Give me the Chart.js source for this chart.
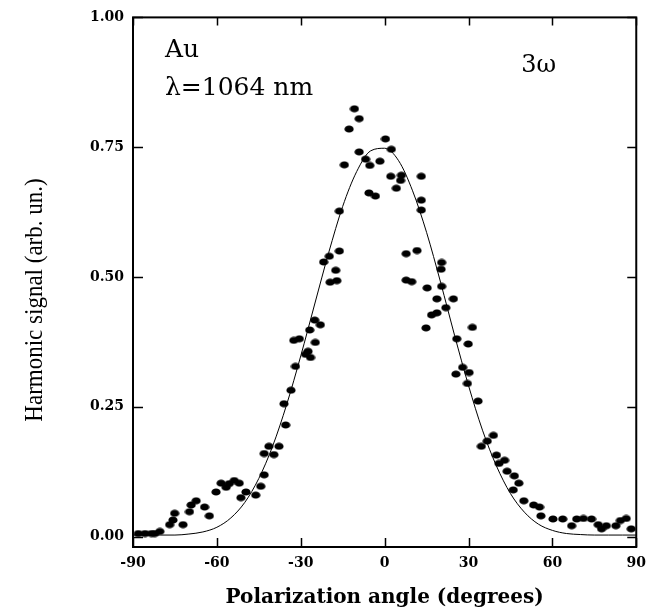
<!DOCTYPE html>
<html>
<head>
<meta charset="utf-8">
<script src="https://cdn.jsdelivr.net/npm/chart.js@4.4.0/dist/chart.umd.min.js"></script>
<style>
  html, body { margin: 0; padding: 0; background: #ffffff; }
  #wrap { width: 654px; height: 615px; position: relative; }
</style>
</head>
<body>
<div id="wrap"><canvas id="chart" width="654" height="615"></canvas></div>
<script>
var angles = [-88.1, -85.7, -83.4, -82.2, -80.4, -76.9, -75.7, -75.1, -72.1, -69.8,
  -69.2, -67.4, -64.4, -62.7, -60.3, -58.5, -56.7, -55.6, -53.8, -52.0,
  -51.4, -49.6, -46.1, -44.3, -43.1, -43.1, -41.4, -39.6, -37.8, -36.0,
  -35.4, -33.5, -32.5, -31.9, -30.5, -28.3, -27.4, -26.8, -26.5, -25.0,
  -24.8, -23.0, -21.8, -19.8, -19.5, -17.5, -17.1, -16.2, -16.2, -14.4,
  -12.7, -10.8, -9.1, -9.1, -6.8, -5.6, -5.3, -3.3, -1.7, 0.3,
  2.2, 2.4, 4.2, 5.7, 6.0, 7.7, 7.7, 9.7, 11.6, 13.1,
  13.1, 13.1, 14.8, 15.2, 16.8, 18.7, 18.7, 20.2, 20.4, 20.4,
  21.9, 24.6, 25.5, 25.8, 27.9, 29.6, 29.9, 30.2, 31.4, 33.4,
  34.6, 36.7, 38.9, 40.0, 40.9, 42.9, 43.8, 46.0, 46.4, 48.0,
  49.8, 53.3, 55.4, 55.9, 60.2, 63.7, 66.9, 68.7, 71.1, 74.0,
  76.4, 77.6, 79.3, 82.7, 84.3, 86.4, 88.2];
var signal = [0.006, 0.006, 0.006, 0.006, 0.010, 0.023, 0.032, 0.045, 0.023, 0.048,
  0.061, 0.069, 0.057, 0.040, 0.086, 0.103, 0.095, 0.102, 0.108, 0.103,
  0.075, 0.086, 0.080, 0.097, 0.119, 0.160, 0.174, 0.158, 0.174, 0.256,
  0.215, 0.282, 0.378, 0.328, 0.381, 0.351, 0.357, 0.398, 0.345, 0.417,
  0.374, 0.408, 0.529, 0.540, 0.490, 0.513, 0.493, 0.550, 0.627, 0.716,
  0.785, 0.824, 0.805, 0.741, 0.727, 0.662, 0.715, 0.656, 0.723, 0.766,
  0.694, 0.746, 0.671, 0.686, 0.696, 0.545, 0.494, 0.491, 0.551, 0.694,
  0.648, 0.629, 0.402, 0.479, 0.427, 0.458, 0.431, 0.515, 0.528, 0.482,
  0.441, 0.458, 0.313, 0.381, 0.326, 0.295, 0.371, 0.316, 0.403, 0.261,
  0.174, 0.184, 0.195, 0.157, 0.141, 0.147, 0.126, 0.090, 0.117, 0.103,
  0.069, 0.061, 0.057, 0.040, 0.034, 0.034, 0.021, 0.034, 0.035, 0.034,
  0.023, 0.015, 0.021, 0.021, 0.031, 0.035, 0.015];

// fitted curve, read every 5 degrees
var fitAngles = [-90, -85, -80, -75, -70, -65, -60, -55, -50, -45, -40, -35, -30, -25, -20, -15, -10, -5,
  0, 5, 10, 15, 20, 25, 30, 35, 40, 45, 50, 55, 60, 65, 70, 75, 80, 85, 90];
var fitSignal = [0.003, 0.003, 0.003, 0.003, 0.005, 0.009, 0.018, 0.036, 0.066, 0.112, 0.175, 0.255, 0.348, 0.448, 0.547, 0.636, 0.703, 0.743,
  0.748, 0.724, 0.666, 0.586, 0.490, 0.388, 0.291, 0.205, 0.136, 0.083, 0.047, 0.024, 0.012, 0.006, 0.004, 0.003, 0.003, 0.003, 0.003];

var xTicks = [-90, -60, -30, 0, 30, 60, 90];
var yTicks = [0, 0.25, 0.5, 0.75, 1.0];

var serif = '"Liberation Serif", serif';
var wide = '"DejaVu Serif", serif';

// slightly oval dot like the scanned markers
var dot = document.createElement('canvas');
dot.width = 10; dot.height = 8;
var dc = dot.getContext('2d');
dc.fillStyle = '#000';
dc.beginPath();
dc.ellipse(5, 4, 4.6, 3.6, 0, 0, Math.PI * 2);
dc.fill();

var pts = angles.map(function (a, i) { return { x: a, y: signal[i] }; });
var fit = fitAngles.map(function (a, i) { return { x: a, y: fitSignal[i] }; });

var frame = {
  id: 'frame',
  afterDatasetsDraw: function (chart) {
    var ctx = chart.ctx, a = chart.chartArea;
    var xs = chart.scales.x, ys = chart.scales.y;
    ctx.save();
    ctx.strokeStyle = '#000';
    ctx.lineWidth = 2;
    ctx.strokeRect(a.left, a.top, a.right - a.left, a.bottom - a.top);
    ctx.lineWidth = 1.5;
    ctx.beginPath();
    yTicks.forEach(function (v) {
      var y = Math.round(ys.getPixelForValue(v)) + 0.5;
      ctx.moveTo(a.left, y); ctx.lineTo(a.left + 10, y);
      ctx.moveTo(a.right, y); ctx.lineTo(a.right - 9, y);
    });
    xTicks.forEach(function (v) {
      var x = Math.round(xs.getPixelForValue(v)) + 0.5;
      ctx.moveTo(x, a.bottom); ctx.lineTo(x, a.bottom - 9);
      ctx.moveTo(x, a.top); ctx.lineTo(x, a.top + 8);
    });
    ctx.stroke();

    ctx.fillStyle = '#000';
    ctx.textBaseline = 'middle';
    ctx.textAlign = 'left';
    ctx.font = '25px ' + wide;
    ctx.fillText('Au', 165, 50);
    ctx.fillText('\u03bb=1064 nm', 165, 88);
    ctx.font = '24px ' + wide;
    ctx.textAlign = 'right';
    ctx.fillText('3\u03c9', 556, 66);

    // y title: tall narrow lettering, rotated
    ctx.translate(35, 300);
    ctx.rotate(-Math.PI / 2);
    ctx.scale(0.92, 1);
    ctx.textAlign = 'center';
    ctx.font = '25px ' + serif;
    ctx.fillText('Harmonic signal (arb. un.)', 0, 0);
    ctx.restore();
  }
};

new Chart(document.getElementById('chart'), {
  type: 'scatter',
  data: {
    datasets: [
      {
        label: 'data',
        data: pts,
        pointStyle: dot,
        pointRadius: 5,
        backgroundColor: '#000',
        borderColor: '#000'
      },
      {
        type: 'line',
        label: 'fit',
        data: fit,
        showLine: true,
        pointRadius: 0,
        borderColor: '#000',
        borderWidth: 1,
        cubicInterpolationMode: 'monotone',
        fill: false
      }
    ]
  },
  options: {
    responsive: false,
    animation: false,
    layout: { padding: { top: 10, right: 14, left: 0, bottom: 0 } },
    plugins: { legend: { display: false }, tooltip: { enabled: false } },
    scales: {
      x: {
        type: 'linear',
        min: -90, max: 90,
        afterBuildTicks: function (s) { s.ticks = xTicks.map(function (v) { return { value: v }; }); },
        afterFit: function (s) { s.height = 68; },
        grid: { display: false, drawTicks: false },
        border: { display: false },
        ticks: {
          padding: 8,
          color: '#000',
          font: { family: wide, size: 14, weight: 'bold' },
          callback: function (v) { return String(v); }
        },
        title: {
          display: true,
          text: 'Polarization angle (degrees)',
          color: '#000',
          font: { family: wide, size: 20, weight: 'bold' },
          padding: { top: 0, bottom: 5 }
        }
      },
      y: {
        type: 'linear',
        min: -0.02, max: 1.0,
        afterBuildTicks: function (s) { s.ticks = yTicks.map(function (v) { return { value: v }; }); },
        afterFit: function (s) { s.width = 133; },
        grid: { display: false, drawTicks: false },
        border: { display: false },
        ticks: {
          padding: 9,
          color: '#000',
          font: { family: wide, size: 14, weight: 'bold' },
          callback: function (v) { return Number(v).toFixed(2); }
        }
      }
    }
  },
  plugins: [frame]
});
</script>
</body>
</html>
